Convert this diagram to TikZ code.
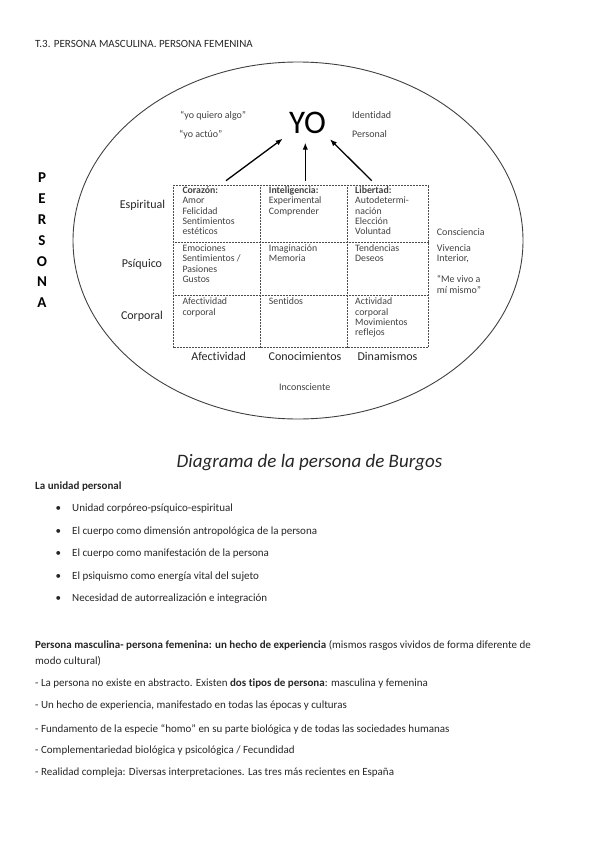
\documentclass[tikz,border=0pt]{standalone}
\usepackage{fontspec}
\setmainfont{Carlito}[Ligatures=NoCommon]
\usetikzlibrary{
  arrows.meta,
  positioning,
}

\begin{document}
\begin{tikzpicture}[
  x=1pt, y=-1pt,
  every node/.style={align=left, inner sep=0pt, text=black!85},
  bodytext/.style={anchor=west, font=\fontsize{11}{12.5}\selectfont},
  smalltext/.style={anchor=west, font=\fontsize{10}{10.7}\selectfont, text=black!75},
  celltext/.style={anchor=north west, font=\fontsize{9.8}{10.4}\selectfont, text=black!75},
  axislabel/.style={font=\fontsize{12}{14}\selectfont, text=black!85},
  gridline/.style={black!70, line width=0.6pt, dash pattern=on 0.8pt off 0.7pt},
  upward/.style={black, line width=1.3pt, -{Latex[length=7pt,width=5.5pt]}},
]
\useasboundingbox (0,0) rectangle (599,848);

\node[bodytext] (title) at (35,44) {T.3. PERSONA MASCULINA. PERSONA FEMENINA};

% ellipse of the person
\draw[black!75, line width=0.9pt] (298,240.5) ellipse [x radius=225pt, y radius=178.5pt];

\foreach \letra [count=\i] in {P,E,R,S,O,N,A}
  \node[font=\fontsize{15}{15}\selectfont\bfseries, text=black] (persona-\i) at (42,178+20.8*\i-20.8) {\letra};

% YO and its labels
\node[font=\fontsize{33}{33}\selectfont, text=black] (yo) at (307.5,123) {YO};
\node[smalltext] (quiero) at (180,116) {“yo quiero algo”};
\node[smalltext] (actuo) at (179,135) {“yo actúo”};
\node[smalltext] (identidad) at (352,115) {Identidad};
\node[smalltext] (personal) at (352,134) {Personal};

% grid
\draw[gridline] (173,185) rectangle (428.3,347.7);
\foreach \gx in {260.7,347.7}
  \draw[gridline] (\gx,185) -- (\gx,347.7);
\foreach \gy in {242.7,295.3}
  \draw[gridline] (173,\gy) -- (428.3,\gy);

\node[celltext] (corazon) at (182.3,186.3) {\textbf{Corazón:}\\Amor\\Felicidad\\Sentimientos\\estéticos};
\node[celltext] (inteligencia) at (268.7,186.3) {\textbf{Inteligencia:}\\Experimental\\Comprender};
\node[celltext] (libertad) at (355,186.3) {\textbf{Libertad:}\\Autodetermi-\\nación\\Elección\\Voluntad};
\node[celltext] (emociones) at (182.3,244.4) {Emociones\\Sentimientos /\\Pasiones\\Gustos};
\node[celltext] (imaginacion) at (268.7,244.4) {Imaginación\\Memoria};
\node[celltext] (tendencias) at (355,244.4) {Tendencias\\Deseos};
\node[celltext] (afectcorp) at (182.3,297.6) {Afectividad\\corporal};
\node[celltext] (sentidos) at (268.7,297.6) {Sentidos};
\node[celltext] (actividad) at (355,297.6) {Actividad\\corporal\\Movimientos\\reflejos};

% rows and columns
\node[axislabel] (espiritual) at (142.5,205.7) {Espiritual};
\node[axislabel] (psiquico) at (142,264) {Psíquico};
\node[axislabel] (corporal) at (142,316.7) {Corporal};
\node[axislabel] (afectividad) at (218.7,356) {Afectividad};
\node[axislabel] (conocimientos) at (305,356) {Conocimientos};
\node[axislabel] (dinamismos) at (387.5,356) {Dinamismos};

\node[smalltext] (consciencia) at (436.7,231.7) {Consciencia};
\node[smalltext, anchor=north west] (vivencia) at (436.7,244) {Vivencia\\Interior,};
\node[smalltext, anchor=north west] (mevivo) at (436.7,275) {“Me vivo a\\mí mismo”};
\node[smalltext, anchor=center] (inconsciente) at (304.7,386.7) {Inconsciente};

% arrows up to YO
\coordinate (fromL) at (226,180.7);
\coordinate (fromM) at (305.3,180.7);
\coordinate (fromR) at (371.7,180.7);
\coordinate (toL) at (282.7,138.7);
\coordinate (toM) at (305.3,142.7);
\coordinate (toR) at (330,139.3);
\draw[upward] (fromL) -- (toL);
\draw[upward] (fromM) -- (toM);
\draw[upward] (fromR) -- (toR);

\node[font=\fontsize{19}{21}\selectfont\itshape, text=black!85] (caption) at (309.5,463) {Diagrama de la persona de Burgos};

% text below
\node[bodytext, font=\fontsize{11}{12.5}\selectfont\bfseries] (unidad) at (35,487) {La unidad personal};
\foreach \yy/\texto [count=\i] in {509/{Unidad corpóreo-psíquico-espiritual},
    532/{El cuerpo como dimensión antropológica de la persona},
    554/{El cuerpo como manifestación de la persona},
    577/{El psiquismo como energía vital del sujeto},
    599/{Necesidad de autorrealización e integración}} {
  \node[bodytext] (bullet-\i) at (55.5,\yy) {•};
  \node[bodytext] (item-\i) at (72,\yy) {\texto};
}

\node[bodytext] (hecho) at (35,645) {\textbf{Persona masculina- persona femenina: un hecho de experiencia} (mismos rasgos vividos de forma diferente de};
\node[bodytext] (modo) at (35,661) {modo cultural)};
\node[bodytext] (guion-1) at (35,684) {- La persona no existe en abstracto. Existen \textbf{dos tipos de persona}: masculina y femenina};
\node[bodytext] (guion-2) at (35,706) {- Un hecho de experiencia, manifestado en todas las épocas y culturas};
\node[bodytext] (guion-3) at (35,729) {- Fundamento de la especie “homo” en su parte biológica y de todas las sociedades humanas};
\node[bodytext] (guion-4) at (35,751) {- Complementariedad biológica y psicológica / Fecundidad};
\node[bodytext] (guion-5) at (35,773) {- Realidad compleja: Diversas interpretaciones. Las tres más recientes en España};

\end{tikzpicture}
\end{document}
